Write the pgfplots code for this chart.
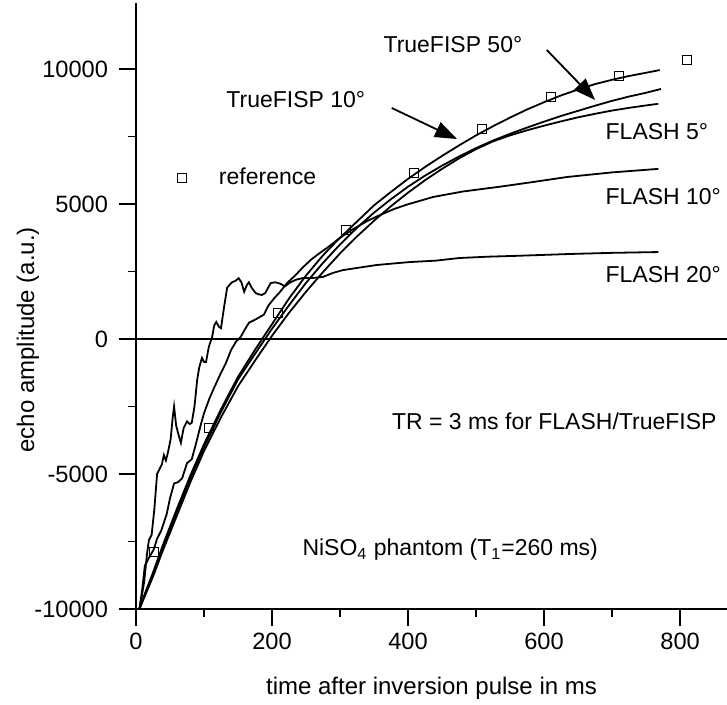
\documentclass[border=0pt]{standalone}
\usepackage{fontspec}
\setmainfont{Liberation Sans}
\setsansfont{Liberation Sans}
\usepackage{pgfplots}
\pgfplotsset{compat=1.18}
\usetikzlibrary{arrows.meta}
\tikzset{ann/.style={font=\fontsize{11.5}{14}\selectfont}}

\begin{document}
\begin{tikzpicture}
\useasboundingbox (-68pt,-48pt) rectangle (295.5pt,304.5pt);
\begin{axis}[
  at={(0pt,0pt)}, anchor=south west,
  scale only axis, width=295.5pt, height=303pt,
  xmin=0, xmax=869, ymin=-10000, ymax=12444,
  axis x line*=bottom, axis y line*=left,
  axis line style={line width=0.9pt},
  xtick={0,200,...,800}, minor x tick num=1,
  ytick={-10000,-5000,0,5000,10000}, minor y tick num=1,
  tick align=outside,
  major tick length=8.5pt, minor tick length=4pt,
  tick style={line width=0.9pt, black},
  scaled y ticks=false,
  /pgf/number format/1000 sep={},
  /pgf/number format/assume math mode=true,
  tick label style={font=\fontsize{11.8}{13}\selectfont},
  yticklabel style={xshift=-2pt},
  label style={font=\fontsize{12}{14}\selectfont},
  xlabel={time after inversion pulse in ms},
  xlabel style={yshift=-7pt},
  ylabel={echo amplitude (a.u.)},
  ylabel style={at={(axis description cs:0,0.444)}, anchor=center, yshift=54pt},
  clip=false,
  legend style={at={(axis cs:52,5963)}, anchor=west, draw=none, fill=none,
    font=\fontsize{11.5}{14}\selectfont,
    /tikz/every odd column/.append style={column sep=14pt}},
]

% major ticks, drawn once more so they are sure to show
\pgfplotsinvokeforeach{0,200,400,600,800}{
  \draw[line width=0.9pt] (axis cs:#1,-10000) -- (axis cs:#1,-10630);
}
\pgfplotsinvokeforeach{-10000,-5000,0,5000,10000}{
  \draw[line width=0.9pt] (axis cs:0,#1) -- (axis cs:-25,#1);
}

% zero line
\addplot[black, line width=0.9pt, forget plot] coordinates {(0,0) (869,0)};

% TrueFISP 50
\addplot[black, line width=0.9pt, forget plot] coordinates {
(5,-10000) (15,-9300) (25,-8650) (40,-7600) (60,-6300) (80,-5050) (100,-3900)
(125,-2600) (150,-1400) (175,-400) (200,550) (225,1500) (250,2350) (275,3100)
(300,3750) (325,4350) (350,4950) (375,5450) (400,5930) (425,6370) (450,6780)
(475,7170) (500,7540) (525,7880) (550,8200) (575,8500) (600,8770) (625,9020)
(650,9240) (675,9440) (700,9600) (725,9740) (750,9860) (770,9960)
};

% TrueFISP 10
\addplot[black, line width=0.9pt, forget plot] coordinates {
(5,-10000) (15,-9350) (25,-8750) (40,-7700) (60,-6400) (80,-5150) (100,-4000)
(125,-2700) (150,-1500) (175,-550) (200,380) (225,1250) (250,2080) (275,2820)
(300,3500) (325,4120) (350,4680) (375,5180) (400,5640) (425,6050) (450,6420)
(475,6760) (500,7070) (525,7350) (550,7600) (575,7830) (600,8050) (625,8260)
(650,8450) (675,8640) (700,8820) (725,8980) (750,9120) (772,9260)
};

% FLASH 5
\addplot[black, line width=0.9pt, forget plot] coordinates {
(5,-10000) (15,-9400) (25,-8800) (40,-7800) (60,-6550) (80,-5300) (100,-4150)
(125,-2900) (150,-1750) (175,-800) (200,120) (225,970) (250,1750) (275,2480)
(300,3170) (325,3800) (350,4380) (375,4920) (400,5420) (425,5880) (450,6300)
(475,6690) (500,7030) (525,7320) (550,7540) (575,7730) (600,7900) (625,8060)
(650,8210) (675,8340) (700,8460) (725,8560) (750,8650) (768,8710)
};

% FLASH 10
\addplot[black, line width=0.9pt, forget plot] coordinates {
(5,-10000) (9,-9300) (13,-8400) (18,-8150) (26,-7800) (31,-7400) (37,-7100)
(45,-6500) (50,-5900) (56,-5350) (62,-5300) (68,-5150) (75,-4600) (82,-4450)
(88,-3900) (95,-3200) (100,-2750) (108,-2200) (115,-1800) (125,-1250) (132,-900)
(140,-400) (147,-100) (154,80) (160,350) (166,600) (174,700) (181,800) (188,900)
(195,1250) (203,1500) (212,1750) (222,2070) (234,2350) (246,2670) (258,2950)
(270,3180) (285,3450) (300,3750) (320,4080) (340,4370) (356,4560) (380,4820)
(400,4990) (437,5260) (480,5460) (535,5640) (580,5800) (634,6000) (700,6170)
(768,6300)
};

% FLASH 20
\addplot[black, line width=0.9pt, forget plot] coordinates {
(5,-10000) (8,-9600) (12,-9000) (16,-8000) (19,-7450) (23,-7250) (27,-6300)
(31,-5000) (35,-4800) (38,-4650) (41,-4300) (44,-4500) (47,-4200) (51,-3700)
(54,-2900) (56,-2500) (59,-3200) (62,-3500) (66,-3850) (70,-3300) (75,-3050)
(79,-3150) (82,-3100) (86,-2500) (90,-1500) (93,-1050) (97,-700) (100,-850)
(103,-850) (107,-300) (112,80) (115,500) (118,630) (122,450) (125,400)
(129,1100) (134,1900) (141,2100) (146,2150) (151,2250) (155,2100) (159,1750)
(163,2000) (166,2100) (170,1900) (176,1700) (181,1650) (185,1630) (190,1700)
(198,2070) (205,2100) (212,2050) (219,1950) (227,2100) (236,2200) (246,2260)
(260,2260) (275,2300) (290,2450) (304,2550) (330,2650) (354,2740) (380,2800)
(403,2850) (440,2900) (476,3000) (520,3050) (560,3080) (594,3110) (640,3150)
(700,3190) (768,3220)
};

% reference points
\addplot[only marks, mark=square, mark size=2.3pt, mark options={line width=0.5pt, black}] coordinates {
(26,-7900) (107,-3300) (209,970) (309,4050) (409,6160) (509,7780)
(610,8960) (710,9740) (810,10330)
};
\addlegendentry{reference}

% annotations
\node[ann] at (axis cs:466,10889) {TrueFISP 50°};
\node[ann] at (axis cs:235,8852) {TrueFISP 10°};
\node[ann, anchor=west, inner sep=0pt] at (axis cs:690,7667) {FLASH 5°};
\node[ann, anchor=west, inner sep=0pt] at (axis cs:690,5259) {FLASH 10°};
\node[ann, anchor=west, inner sep=0pt] at (axis cs:690,2400) {FLASH 20°};
\node[ann] at (axis cs:615,-3037) {TR = 3 ms for FLASH/TrueFISP};
\node[ann] at (axis cs:462,-7815) {NiSO\textsubscript{4} phantom (T\textsubscript{1}=260 ms)};
\draw[line width=0.9pt, -{Triangle[length=11pt,width=8pt]}] (axis cs:604,10704) -- (axis cs:675,8852);
\draw[line width=0.9pt, -{Triangle[length=11pt,width=8pt]}] (axis cs:376,8556) -- (axis cs:472,7407);
\end{axis}
\end{tikzpicture}
\end{document}
